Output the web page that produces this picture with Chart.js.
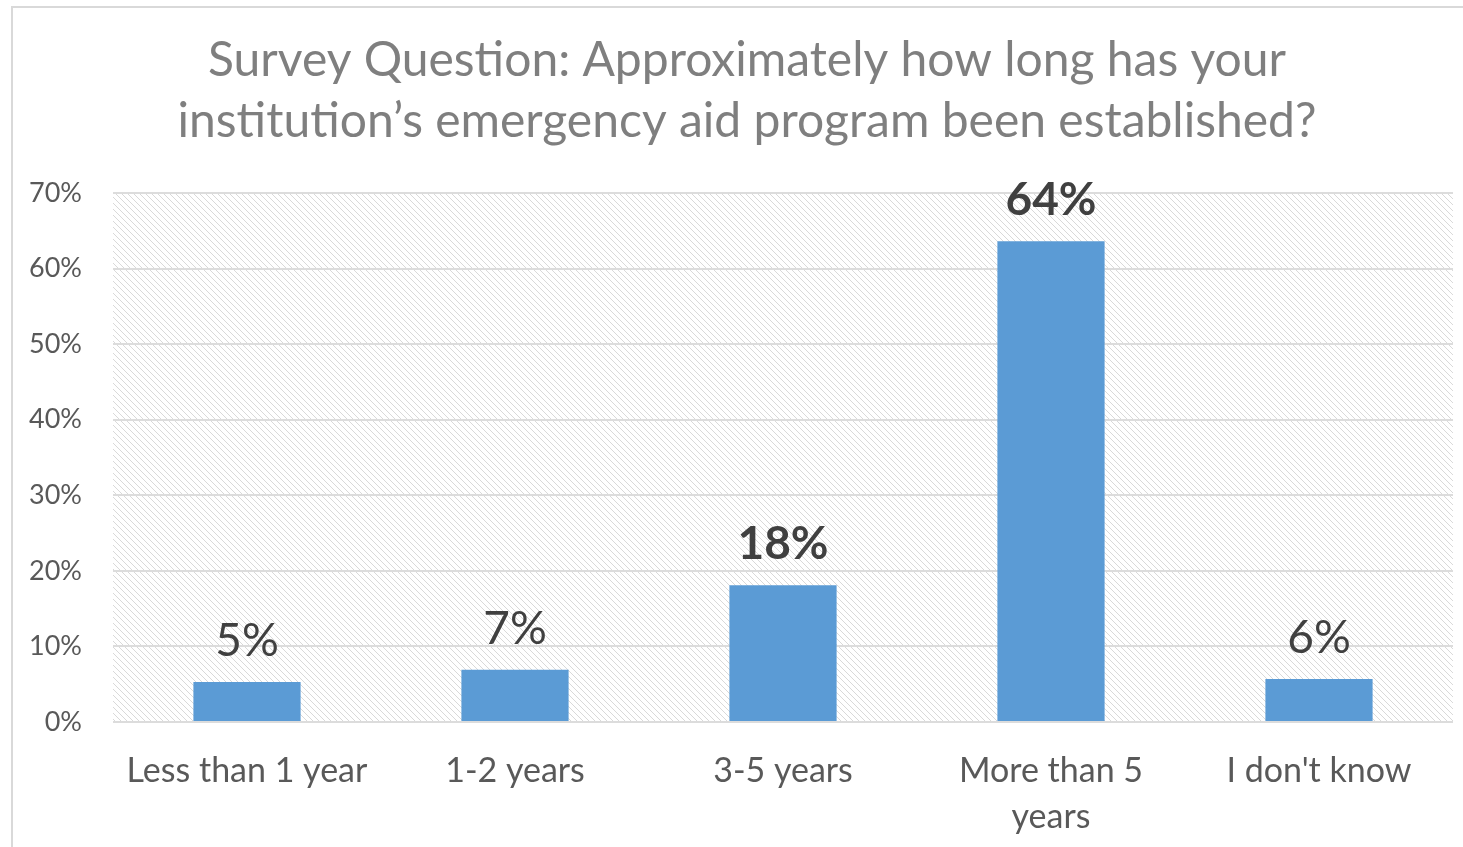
<!DOCTYPE html>
<html lang="en">
<head>
    <meta charset="UTF-8">
    <title>Emergency aid program survey</title>
    <script src="https://cdn.jsdelivr.net/npm/chart.js"></script>
    <style>
        html, body { margin: 0; padding: 0; background: #fff; }
        .chart-box { position: relative; width: 1463px; height: 847px; }
    </style>
</head>
<body>
    <div class="chart-box">
        <canvas id="survey-chart"></canvas>
    </div>

    <script>
        // data (percent of respondents)
        const categories = ['Less than 1 year', '1-2 years', '3-5 years', ['More than 5', 'years'], "I don't know"];
        const shares = [5.3, 6.9, 18.1, 63.6, 5.7];
        const yTicks = [0, 10, 20, 30, 40, 50, 60, 70];
        const titleLines = ['Survey Question: Approximately how long has your', 'institution\u2019s emergency aid program been established?'];

        const FONT = 'Lato, "Open Sans", sans-serif';

        function hatchPattern(ctx) {
            const tile = document.createElement('canvas');
            tile.width = 6;
            tile.height = 6;
            const t = tile.getContext('2d');
            t.fillStyle = '#d9d9d9';
            for (let i = 0; i < 6; i++) {
                t.fillRect(i, i, 1, 1);
            }
            return ctx.createPattern(tile, 'repeat');
        }

        // frame lines + hatched plot background
        const backdrop = {
            id: 'backdrop',
            beforeDraw(chart) {
                const ctx = chart.ctx;
                const a = chart.chartArea;
                ctx.save();
                ctx.fillStyle = '#d9d9d9';
                ctx.fillRect(11, 6, 2, chart.height);
                ctx.fillRect(11, 6, chart.width, 2);
                ctx.fillStyle = hatchPattern(ctx);
                ctx.fillRect(a.left, a.top, a.right - a.left, a.bottom - a.top);
                ctx.restore();
            }
        };

        // title centred over the whole frame, not over the plot
        const frameTitle = {
            id: 'frameTitle',
            afterDraw(chart, args, opts) {
                const ctx = chart.ctx;
                ctx.save();
                ctx.fillStyle = '#7f7f7f';
                ctx.font = '48px ' + FONT;
                ctx.textAlign = 'center';
                ctx.textBaseline = 'alphabetic';
                opts.lines.forEach((line, i) => ctx.fillText(line, 747, 76 + i * 61));
                ctx.restore();
            }
        };

        // value labels above the bars
        const valueLabels = {
            id: 'valueLabels',
            afterDatasetsDraw(chart, args, opts) {
                const ctx = chart.ctx;
                const meta = chart.getDatasetMeta(0);
                ctx.save();
                ctx.fillStyle = '#404040';
                ctx.textAlign = 'center';
                ctx.textBaseline = 'alphabetic';
                meta.data.forEach((bar, i) => {
                    const bold = opts.bold.includes(i);
                    ctx.font = (bold ? 'bold ' : '') + '46px ' + FONT;
                    const v = chart.data.datasets[0].data[i];
                    ctx.fillText(Math.round(v) + '%', bar.x, bar.y - 26);
                });
                ctx.restore();
            }
        };

        new Chart(document.getElementById('survey-chart'), {
            type: 'bar',
            data: {
                labels: categories,
                datasets: [{
                    data: shares,
                    backgroundColor: '#5b9bd5',
                    categoryPercentage: 0.8,
                    barPercentage: 0.5
                }]
            },
            options: {
                responsive: true,
                maintainAspectRatio: false,
                animation: false,
                layout: { padding: { left: 0, right: 10, top: 193, bottom: 0 } },
                plugins: {
                    legend: { display: false },
                    tooltip: { enabled: false },
                    title: { display: false },
                    frameTitle: { lines: titleLines },
                    valueLabels: { bold: [2, 3] }
                },
                scales: {
                    x: {
                        grid: { display: false },
                        border: { display: false },
                        ticks: {
                            color: '#595959',
                            font: { family: FONT, size: 34, lineHeight: 1.35 },
                            padding: 18,
                            maxRotation: 0,
                            autoSkip: false
                        },
                        afterFit(scale) { scale.height = 125; }
                    },
                    y: {
                        min: 0,
                        max: 70,
                        afterBuildTicks(scale) { scale.ticks = yTicks.map(v => ({ value: v })); },
                        grid: { color: '#dcdcdc', lineWidth: 2, drawTicks: false },
                        border: { display: false },
                        ticks: {
                            color: '#595959',
                            font: { family: FONT, size: 27 },
                            padding: 31,
                            callback: v => v + '%'
                        },
                        afterFit(scale) { scale.width = 113; }
                    }
                }
            },
            plugins: [backdrop, frameTitle, valueLabels]
        });
    </script>
</body>
</html>
